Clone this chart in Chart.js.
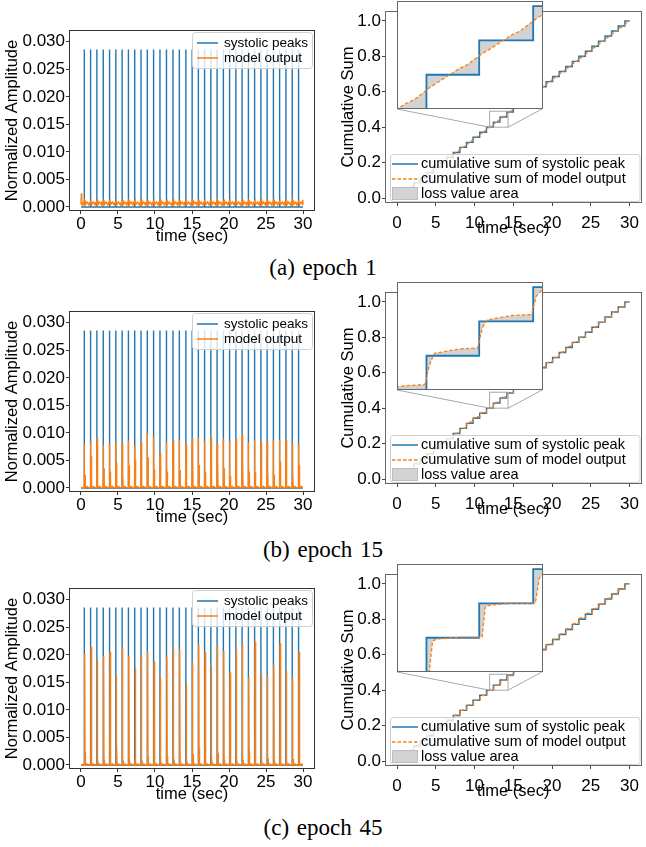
<!DOCTYPE html>
<html>
<head>
<meta charset="utf-8">
<script src="https://cdn.jsdelivr.net/npm/chart.js@4.4.1/dist/chart.umd.min.js"></script>
<style>
    body { margin: 0; background: #fff; width: 646px; height: 847px; position: relative; overflow: hidden; }
    canvas { position: absolute; }
    .caption {
        position: absolute; left: 0; width: 646px; text-align: center; word-spacing: 2px;
        font-family: "Liberation Serif", "Times New Roman", serif; font-size: 23px; line-height: 26px; color: #000;
    }
</style>
</head>
<body>
<script>
// ---- data ----
const timeTicks = [0, 5, 10, 15, 20, 25, 30];
const ampTicks = [0, 0.005, 0.010, 0.015, 0.020, 0.025, 0.030];
const cumTicks = [0, 0.2, 0.4, 0.6, 0.8, 1.0];

// systolic peak times (sec); every peak has the same normalized height
const beatTimes = [
    0.45, 1.30, 2.15, 3.01, 3.86,
    4.71, 5.56, 6.41, 7.26, 8.11,
    8.96, 9.81, 10.67, 11.55, 12.43,
    13.29, 14.17, 15.02, 15.86, 16.70,
    17.55, 18.39, 19.24, 20.08, 20.93,
    21.77, 22.62, 23.46, 24.31, 25.15,
    26.00, 26.84, 27.69, 28.54, 29.40
];
const systolicPeak = 0.02857;

// model output, epoch 1 (flat, noisy)
const pre1 = [
    0.0009, 0.0008, 0.0009, 0.0010, 0.0008,
    0.0009, 0.0008, 0.0009, 0.0010, 0.0008,
    0.0009, 0.0008, 0.0010, 0.0009, 0.0008,
    0.0009, 0.0010, 0.0008, 0.0009, 0.0008,
    0.0010, 0.0009, 0.0008, 0.0009, 0.0010,
    0.0008, 0.0009, 0.0008, 0.0010, 0.0009,
    0.0008, 0.0009, 0.0010, 0.0008, 0.0009
];
const main1 = [
    0.0012, 0.0011, 0.0012, 0.0011, 0.0012,
    0.0011, 0.0011, 0.0012, 0.0011, 0.0012,
    0.0011, 0.0012, 0.0011, 0.0011, 0.0012,
    0.0011, 0.0012, 0.0011, 0.0011, 0.0012,
    0.0011, 0.0012, 0.0011, 0.0012, 0.0011,
    0.0011, 0.0012, 0.0011, 0.0012, 0.0011,
    0.0012, 0.0011, 0.0011, 0.0012, 0.0011
];
const side1 = [
    0.0008, 0.0009, 0.0008, 0.0008, 0.0009,
    0.0008, 0.0009, 0.0008, 0.0008, 0.0009,
    0.0008, 0.0008, 0.0009, 0.0008, 0.0009,
    0.0008, 0.0008, 0.0009, 0.0008, 0.0008,
    0.0009, 0.0008, 0.0009, 0.0008, 0.0008,
    0.0009, 0.0008, 0.0008, 0.0009, 0.0008,
    0.0009, 0.0008, 0.0008, 0.0009, 0.0008
];
const level1 = { floor: 0.0005, hump: 0.0009, onset: 0.0025, tail: 0.0013 };
const lags1 = [-0.2, 0.03, 0.15];

// model output, epoch 15
const pre15 = [
    0.0012, 0.0010, 0.0015, 0.0008, 0.0012,
    0.0010, 0.0014, 0.0009, 0.0011, 0.0013,
    0.0010, 0.0012, 0.0009, 0.0011, 0.0014,
    0.0010, 0.0012, 0.0009, 0.0013, 0.0011,
    0.0010, 0.0012, 0.0014, 0.0009, 0.0011,
    0.0013, 0.0010, 0.0012, 0.0011, 0.0009,
    0.0013, 0.0010, 0.0012, 0.0011, 0.0010
];
const main15 = [
    0.0079, 0.0085, 0.0090, 0.0078, 0.0081,
    0.0083, 0.0081, 0.0086, 0.0076, 0.0083,
    0.0100, 0.0092, 0.0063, 0.0083, 0.0086,
    0.0088, 0.0080, 0.0089, 0.0091, 0.0085,
    0.0092, 0.0080, 0.0089, 0.0085, 0.0091,
    0.0097, 0.0082, 0.0087, 0.0084, 0.0084,
    0.0088, 0.0087, 0.0088, 0.0081, 0.0079
];
const side15 = [
    0.0024, 0.0058, 0.0062, 0.0036, 0.0030,
    0.0046, 0.0028, 0.0041, 0.0051, 0.0036,
    0.0056, 0.0034, 0.0044, 0.0030, 0.0046,
    0.0032, 0.0020, 0.0048, 0.0042, 0.0030,
    0.0026, 0.0050, 0.0036, 0.0022, 0.0046,
    0.0040, 0.0030, 0.0028, 0.0044, 0.0034,
    0.0024, 0.0048, 0.0030, 0.0036, 0.0042
];
const level15 = { floor: 0.00005, hump: 0.0003, onset: 0.00005, tail: 0.00005 };
const lags15 = [-0.03, 0.02, 0.10];

// model output, epoch 45
const pre45 = [
    0.0062, 0.0008, 0.0082, 0.0066, 0.0055,
    0.0010, 0.0012, 0.0068, 0.0011, 0.0005,
    0.0015, 0.0069, 0.0118, 0.0016, 0.0055,
    0.0005, 0.0130, 0.0083, 0.0010, 0.0040,
    0.0070, 0.0012, 0.0008, 0.0090, 0.0030,
    0.0008, 0.0120, 0.0030, 0.0115, 0.0100,
    0.0060, 0.0030, 0.0110, 0.0120, 0.0062
];
const main45 = [
    0.0202, 0.0214, 0.0190, 0.0198, 0.0205,
    0.0163, 0.0213, 0.0198, 0.0177, 0.0199,
    0.0207, 0.0188, 0.0159, 0.0196, 0.0213,
    0.0210, 0.0148, 0.0186, 0.0218, 0.0205,
    0.0180, 0.0218, 0.0207, 0.0168, 0.0210,
    0.0220, 0.0159, 0.0224, 0.0166, 0.0162,
    0.0182, 0.0221, 0.0171, 0.0158, 0.0205
];
const side45 = [
    0.0024, 0.0019, 0.0012, 0.0010, 0.0021,
    0.0042, 0.0008, 0.0010, 0.0010, 0.0008,
    0.0015, 0.0009, 0.0012, 0.0016, 0.0010,
    0.0008, 0.0012, 0.0020, 0.0030, 0.0010,
    0.0015, 0.0022, 0.0010, 0.0028, 0.0013,
    0.0009, 0.0025, 0.0018, 0.0010, 0.0012,
    0.0010, 0.0014, 0.0009, 0.0011, 0.0006
];
const level45 = { floor: 0, hump: 0.0002, onset: 0, tail: 0 };
const lags45 = [0.04, 0.07, 0.14];

// zoomed window shown in the inset
const zoomX = [11.95, 14.33];
const zoomY = [0.40, 0.49];

const captions = ["(a) epoch 1", "(b) epoch 15", "(c) epoch 45"];

// ---- styling ----
const BLUE = "#1f77b4";
const ORANGE = "#ff7f0e";
const LOSS = "#d3d3d3";
const FONT = '"Liberation Sans", Arial, sans-serif';

Chart.defaults.font.family = FONT;
Chart.defaults.color = "#000";

/**
 * Build series from the arrays
 */
function peakSpikes() {
    const pts = [{ x: 0, y: 0 }];
    beatTimes.forEach(t => pts.push({ x: t, y: 0 }, { x: t, y: systolicPeak }, { x: t, y: 0 }));
    pts.push({ x: 30, y: 0 });
    return pts;
}

function modelOutput(pre, main, side, lags, lv) {
    const w = 0.03, wPre = 0.006;
    const pts = [{ x: 0, y: lv.floor }, { x: 0.05, y: lv.onset }, { x: 0.1, y: lv.floor }];
    beatTimes.forEach((t, i) => {
        pts.push({ x: t + lags[0] - wPre, y: lv.floor });
        pts.push({ x: t + lags[0], y: pre[i] });
        pts.push({ x: t + lags[0] + wPre, y: lv.floor });
        pts.push({ x: t + lags[1], y: main[i] });
        pts.push({ x: t + lags[1] + w, y: lv.floor });
        pts.push({ x: t + lags[2], y: side[i] });
        pts.push({ x: t + lags[2] + w, y: lv.floor });
        pts.push({ x: t + 0.38, y: lv.hump });
        pts.push({ x: t + 0.54, y: lv.floor });
    });
    pts.push({ x: 29.97, y: lv.tail }, { x: 30, y: lv.floor });
    return pts;
}

function peakCumulative() {
    const pts = [{ x: 0, y: 0 }];
    let acc = 0;
    beatTimes.forEach(t => {
        pts.push({ x: t, y: acc });
        acc += systolicPeak;
        pts.push({ x: t, y: acc });
    });
    pts.push({ x: 30, y: acc });
    return pts;
}

function outputCumulative(pts) {
    let acc = 0;
    const out = [{ x: pts[0].x, y: 0 }];
    for (let i = 1; i < pts.length; i++) {
        acc += (pts[i].x - pts[i - 1].x) * (pts[i].y + pts[i - 1].y) / 2;
        out.push({ x: pts[i].x, y: acc });
    }
    return out.map(p => ({ x: p.x, y: p.y / acc }));
}

/**
 * Small plugins
 */
function framePlugin(color) {
    return {
        id: "frame",
        afterDatasetsDraw(chart) {
            const { ctx, chartArea: a } = chart;
            ctx.save();
            ctx.strokeStyle = color;
            ctx.lineWidth = 1;
            ctx.strokeRect(Math.round(a.left) + 0.5, Math.round(a.top) + 0.5,
                Math.round(a.right - a.left) - 1, Math.round(a.bottom - a.top) - 1);
            ctx.restore();
        }
    };
}

function legendBox(ctx, x, y, w, h) {
    const r = 3;
    ctx.beginPath();
    ctx.moveTo(x + r, y);
    ctx.lineTo(x + w - r, y);
    ctx.arcTo(x + w, y, x + w, y + r, r);
    ctx.lineTo(x + w, y + h - r);
    ctx.arcTo(x + w, y + h, x + w - r, y + h, r);
    ctx.lineTo(x + r, y + h);
    ctx.arcTo(x, y + h, x, y + h - r, r);
    ctx.lineTo(x, y + r);
    ctx.arcTo(x, y, x + r, y, r);
    ctx.closePath();
    ctx.fillStyle = "rgba(255,255,255,0.8)";
    ctx.fill();
    ctx.strokeStyle = "#d0d0d0";
    ctx.lineWidth = 1;
    ctx.stroke();
}

const ampLegend = {
    id: "ampLegend",
    afterDraw(chart) {
        const { ctx, chartArea: a } = chart;
        const x0 = a.right - 123, y0 = a.top + 2;
        ctx.save();
        legendBox(ctx, x0 + 0.5, y0 + 0.5, 120, 36);
        const items = [[BLUE, "systolic peaks"], [ORANGE, "model output"]];
        ctx.font = "13.5px " + FONT;
        ctx.textBaseline = "middle";
        items.forEach(([c, txt], i) => {
            const y = y0 + 11 + i * 15;
            ctx.strokeStyle = c;
            ctx.lineWidth = 1.5;
            ctx.beginPath();
            ctx.moveTo(x0 + 5, y);
            ctx.lineTo(x0 + 26, y);
            ctx.stroke();
            ctx.fillStyle = "#000";
            ctx.fillText(txt, x0 + 32, y);
        });
        ctx.restore();
    }
};

const cumLegend = {
    id: "cumLegend",
    afterDraw(chart) {
        const { ctx, chartArea: a } = chart;
        const x0 = a.left + 5, y0 = a.bottom - 49;
        ctx.save();
        legendBox(ctx, x0 + 0.5, y0 + 0.5, a.right - 2 - x0, 47);
        ctx.font = "14.5px " + FONT;
        ctx.textBaseline = "middle";
        const y1 = y0 + 10, y2 = y0 + 25, y3 = y0 + 40;
        ctx.lineWidth = 1.5;
        ctx.strokeStyle = BLUE;
        ctx.beginPath(); ctx.moveTo(x0 + 2, y1); ctx.lineTo(x0 + 28, y1); ctx.stroke();
        ctx.strokeStyle = ORANGE;
        ctx.setLineDash([3.5, 2]);
        ctx.beginPath(); ctx.moveTo(x0 + 2, y2); ctx.lineTo(x0 + 28, y2); ctx.stroke();
        ctx.setLineDash([]);
        ctx.fillStyle = LOSS;
        ctx.fillRect(x0 + 2, y3 - 7, 26, 13);
        ctx.strokeStyle = "#bdbdbd";
        ctx.lineWidth = 1;
        ctx.strokeRect(x0 + 2.5, y3 - 6.5, 25, 12);
        ctx.fillStyle = "#000";
        ctx.fillText("cumulative sum of systolic peak", x0 + 31, y1);
        ctx.fillText("cumulative sum of model output", x0 + 31, y2);
        ctx.fillText("loss value area", x0 + 31, y3);
        ctx.restore();
    }
};

// zoom box plus the two connector lines to the inset (inset placed at 67..212, bottom 109 in canvas px)
const zoomMark = {
    id: "zoomMark",
    afterDatasetsDraw(chart) {
        const { ctx, scales: { x, y } } = chart;
        const l = x.getPixelForValue(zoomX[0]), r = x.getPixelForValue(zoomX[1]);
        const t = y.getPixelForValue(zoomY[1]), b = y.getPixelForValue(zoomY[0]);
        ctx.save();
        ctx.strokeStyle = "#a8a8a8";
        ctx.lineWidth = 1;
        ctx.strokeRect(l, t, r - l, b - t);
        ctx.beginPath();
        ctx.moveTo(l, b); ctx.lineTo(67, 109);
        ctx.moveTo(r, b); ctx.lineTo(212, 109);
        ctx.stroke();
        ctx.restore();
    }
};

const whiteBg = {
    id: "whiteBg",
    beforeDraw(chart) {
        const { ctx, width, height } = chart;
        ctx.save();
        ctx.fillStyle = "#fff";
        ctx.fillRect(0, 0, width, height);
        ctx.restore();
    }
};

/**
 * Charts
 */
function makeCanvas(left, top, w, h) {
    const c = document.createElement("canvas");
    c.width = w; c.height = h;
    c.style.left = left + "px";
    c.style.top = top + "px";
    document.body.appendChild(c);
    return c;
}

function axisTicks(values) {
    return s => { s.ticks = values.map(v => ({ value: v })); };
}

function ampChart(canvas, output) {
    return new Chart(canvas, {
        type: "line",
        data: {
            datasets: [
                { label: "model output", data: output, borderColor: ORANGE, borderWidth: 1.4, pointRadius: 0, order: 0 },
                { label: "systolic peaks", data: peakSpikes(), borderColor: BLUE, borderWidth: 1.4, pointRadius: 0, order: 1 }
            ]
        },
        options: {
            responsive: false, animation: false, events: [],
            layout: { padding: { top: 30, right: 15, bottom: 0, left: 0 } },
            scales: {
                x: {
                    type: "linear", min: -1.62, max: 31.62,
                    afterBuildTicks: axisTicks(timeTicks),
                    afterFit: s => { s.height = 39; },
                    ticks: { font: { size: 17 }, padding: 0, maxRotation: 0, callback: v => String(v) },
                    grid: { drawOnChartArea: false, tickLength: 3, color: "#333" },
                    border: { display: false },
                    title: { display: true, text: "time (sec)", font: { size: 16.5 }, padding: { top: 0, bottom: 4 } }
                },
                y: {
                    min: -0.00073, max: 0.03213,
                    afterBuildTicks: axisTicks(ampTicks),
                    afterFit: s => { s.width = 69; },
                    ticks: { font: { size: 17 }, padding: 1, callback: v => v.toFixed(3) },
                    grid: { drawOnChartArea: false, tickLength: 3, color: "#333" },
                    border: { display: false },
                    title: { display: true, text: "Normalized Amplitude", font: { size: 16.5 }, padding: { top: 3, bottom: 0 } }
                }
            },
            plugins: { legend: { display: false }, tooltip: { enabled: false } }
        },
        plugins: [framePlugin("#333"), ampLegend]
    });
}

function cumDatasets(output, widths) {
    return [
        {
            label: "cumulative sum of systolic peak", data: peakCumulative(),
            borderColor: BLUE, borderWidth: widths[0], pointRadius: 0,
            fill: 1, backgroundColor: LOSS, order: 1
        },
        {
            label: "cumulative sum of model output", data: outputCumulative(output),
            borderColor: ORANGE, borderWidth: widths[1], borderDash: [3.5, 2], pointRadius: 0,
            fill: false, order: 0
        }
    ];
}

function cumChart(canvas, output) {
    return new Chart(canvas, {
        type: "line",
        data: { datasets: cumDatasets(output, [1.4, 1.4]) },
        options: {
            responsive: false, animation: false, events: [],
            layout: { padding: { top: 11, right: 1, bottom: 0, left: 0 } },
            scales: {
                x: {
                    type: "linear", min: -1.55, max: 31.55,
                    afterBuildTicks: axisTicks(timeTicks),
                    afterFit: s => { s.height = 42; },
                    ticks: { font: { size: 17 }, padding: 7, maxRotation: 0, callback: v => String(v) },
                    grid: { drawOnChartArea: false, tickLength: 3, color: "#444" },
                    border: { display: false },
                    title: { display: true, text: "time (sec)", font: { size: 16.5 }, padding: { top: 0, bottom: 6.5 } }
                },
                y: {
                    min: -0.028, max: 1.0546,
                    afterBuildTicks: axisTicks(cumTicks),
                    afterFit: s => { s.width = 55; },
                    ticks: { font: { size: 17 }, padding: 1, callback: v => v.toFixed(1) },
                    grid: { drawOnChartArea: false, tickLength: 3, color: "#444" },
                    border: { display: false },
                    title: { display: true, text: "Cumulative Sum", font: { size: 16.5 }, padding: { top: 9, bottom: 0 } }
                }
            },
            plugins: { legend: { display: false }, tooltip: { enabled: false } }
        },
        plugins: [framePlugin("#666"), zoomMark, cumLegend]
    });
}

function insetChart(canvas, output) {
    return new Chart(canvas, {
        type: "line",
        data: { datasets: cumDatasets(output, [1.8, 1.3]) },
        options: {
            responsive: false, animation: false, events: [],
            layout: { padding: 0 },
            scales: {
                x: { type: "linear", display: false, min: zoomX[0], max: zoomX[1] },
                y: { display: false, min: zoomY[0], max: zoomY[1] }
            },
            plugins: { legend: { display: false }, tooltip: { enabled: false } }
        },
        plugins: [whiteBg, framePlugin("#666")]
    });
}

/**
 * Build the three rows
 */
const outputs = [
    modelOutput(pre1, main1, side1, lags1, level1),
    modelOutput(pre15, main15, side15, lags15, level15),
    modelOutput(pre45, main45, side45, lags45, level45)
];
const rowTops = [[0, 0, 268], [281, 281, 550], [558, 563, 828]];

outputs.forEach((out, i) => {
    const [leftTop, rightTop, capY] = rowTops[i];
    ampChart(makeCanvas(0, leftTop, 330, 250), out);
    cumChart(makeCanvas(330, rightTop, 316, 245), out);
    insetChart(makeCanvas(397, rightTop + 1, 146, 108), out);

    const cap = document.createElement("div");
    cap.className = "caption";
    cap.style.top = (capY - 13) + "px";
    cap.textContent = captions[i];
    document.body.appendChild(cap);
});
</script>
</body>
</html>
